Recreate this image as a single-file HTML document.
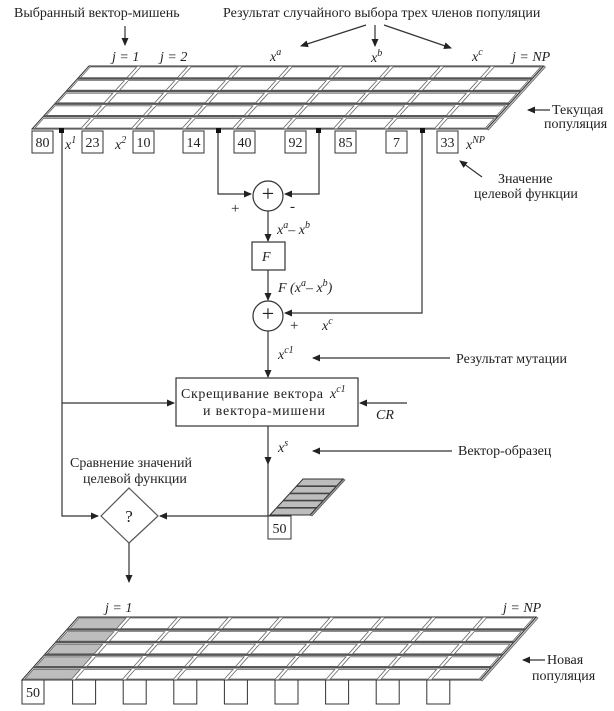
<!DOCTYPE html>
<html><head><meta charset="utf-8"><style>
html,body{margin:0;padding:0;background:#fff;}
svg{display:block;}
text{font-family:"Liberation Serif","DejaVu Serif",serif;fill:#222;}
.i{font-style:italic;}
</style></head><body>
<svg id="s" width="614" height="711" viewBox="0 0 614 711" xmlns="http://www.w3.org/2000/svg">
<defs>
<marker id="a" markerWidth="8" markerHeight="8" refX="7" refY="4" orient="auto" markerUnits="userSpaceOnUse">
<path d="M0,0.5 L8,4 L0,7.5 Z" fill="#222"/></marker>
</defs>
<g id="grids"></g>
<g stroke="#333" stroke-width="1.2" fill="none">
<line x1="125" y1="26" x2="125" y2="45" marker-end="url(#a)"/>
<line x1="366" y1="25" x2="301" y2="46" marker-end="url(#a)"/>
<line x1="375" y1="25" x2="375" y2="46" marker-end="url(#a)"/>
<line x1="384" y1="25" x2="451" y2="48" marker-end="url(#a)"/>
<line x1="550" y1="110" x2="528" y2="110" marker-end="url(#a)"/>
<line x1="482" y1="177" x2="460" y2="161" marker-end="url(#a)"/>
<polyline points="62,132 62,516 98,516" marker-end="url(#a)"/>
<line x1="62" y1="403" x2="174" y2="403" marker-end="url(#a)"/>
<polyline points="218,132 218,194 251,194" marker-end="url(#a)"/>
<polyline points="319,132 319,194 285,194" marker-end="url(#a)"/>
<polyline points="422,132 422,313 285,313" marker-end="url(#a)"/>
<circle cx="268" cy="196" r="15" fill="#fff"/>
<circle cx="268" cy="316" r="15" fill="#fff"/>
<line x1="268" y1="211" x2="268" y2="241" marker-end="url(#a)"/>
<rect x="252" y="242" width="33" height="28" fill="#fff"/>
<line x1="268" y1="270" x2="268" y2="300" marker-end="url(#a)"/>
<line x1="268" y1="331" x2="268" y2="377" marker-end="url(#a)"/>
<rect x="176" y="378" width="182" height="48" fill="#fff"/>
<line x1="407" y1="403" x2="360" y2="403" marker-end="url(#a)"/>
<line x1="268" y1="426" x2="268" y2="464" marker-end="url(#a)"/>
<line x1="268" y1="464" x2="268" y2="516"/>
<line x1="450" y1="358" x2="313" y2="358" marker-end="url(#a)"/>
<line x1="452" y1="451" x2="313" y2="451" marker-end="url(#a)"/>
<line x1="270" y1="516" x2="160" y2="516" marker-end="url(#a)"/>
<polygon points="129,488 158,516 129,543 101,516" stroke="#555" fill="#fff"/>
<line x1="129" y1="543" x2="129" y2="582" marker-end="url(#a)"/>
<line x1="545" y1="660" x2="523" y2="660" marker-end="url(#a)"/>
</g>
<g fill="#111">
<rect x="59" y="128" width="5" height="5"/><rect x="216" y="128" width="5" height="5"/>
<rect x="316" y="128" width="5" height="5"/><rect x="420" y="128" width="5" height="5"/>
</g>
<g font-size="14">
<text x="14" y="17">Выбранный вектор-мишень</text>
<text x="223" y="17">Результат случайного выбора трех членов популяции</text>
<text x="552" y="114">Текущая</text>
<text x="544" y="128">популяция</text>
<text x="498" y="183">Значение</text>
<text x="474" y="198">целевой функции</text>
<text x="456" y="363">Результат мутации</text>
<text x="458" y="455">Вектор-образец</text>
<text x="70" y="467">Сравнение значений</text>
<text x="83" y="483">целевой функции</text>
<text x="547" y="664">Новая</text>
<text x="532" y="680">популяция</text>
<text x="181" y="398" textLength="142">Скрещивание вектора</text>
<text x="203" y="415" textLength="122">и вектора-мишени</text>
</g>
<g font-size="14" class="i">
<text x="112" y="61" class="i">j = 1</text>
<text x="160" y="61" class="i">j = 2</text>
<text x="270" y="61" class="i">x<tspan dy="-6" font-size="10">a</tspan></text>
<text x="371" y="62" class="i">x<tspan dy="-6" font-size="10">b</tspan></text>
<text x="472" y="61" class="i">x<tspan dy="-6" font-size="10">c</tspan></text>
<text x="512" y="61" class="i">j = NP</text>
<text x="65" y="149" class="i">x<tspan dy="-6" font-size="10">1</tspan></text>
<text x="115" y="149" class="i">x<tspan dy="-6" font-size="10">2</tspan></text>
<text x="466" y="149" class="i">x<tspan dy="-6" font-size="10">NP</tspan></text>
<text x="277" y="234" class="i">x<tspan dy="-6" font-size="10">a</tspan><tspan dy="6">– x</tspan><tspan dy="-6" font-size="10">b</tspan></text>
<text x="262" y="261" class="i">F</text>
<text x="278" y="292" class="i">F (x<tspan dy="-6" font-size="10">a</tspan><tspan dy="6">– x</tspan><tspan dy="-6" font-size="10">b</tspan><tspan dy="6">)</tspan></text>
<text x="322" y="330" class="i">x<tspan dy="-6" font-size="10">c</tspan></text>
<text x="278" y="359" class="i">x<tspan dy="-6" font-size="10">c1</tspan></text>
<text x="330" y="398" class="i">x<tspan dy="-6" font-size="10">c1</tspan></text>
<text x="376" y="419" class="i">CR</text>
<text x="278" y="452" class="i">x<tspan dy="-6" font-size="10">s</tspan></text>
<text x="105" y="612" class="i">j = 1</text>
<text x="503" y="612" class="i">j = NP</text>
</g>
<g font-size="15">
<text x="268" y="201" text-anchor="middle" font-size="22" font-family="Liberation Sans">+</text>
<text x="268" y="321" text-anchor="middle" font-size="22" font-family="Liberation Sans">+</text>
<text x="231" y="213">+</text><text x="290" y="211">-</text>
<text x="290" y="330">+</text>
<text x="129" y="522" text-anchor="middle" font-size="17">?</text>
</g>
<g id="boxes" font-size="14"></g>
</svg>
<script>
var NS="http://www.w3.org/2000/svg";
function el(p,t,a){var e=document.createElementNS(NS,t);for(var k in a)e.setAttribute(k,a[k]);p.appendChild(e);return e;}
var G=document.getElementById("grids"),B=document.getElementById("boxes");
function slab(bl,bot,top,sh,cw,n,rows,grayCol){
  var h=bot-top,W=cw*n;
  el(G,"polygon",{points:[bl+W,bot, bl+W+sh,top, bl+W+sh+2,top+1, bl+W+2,bot+1].join(" "),fill:"#bbb",stroke:"#555","stroke-width":"0.6"});
  el(G,"polygon",{points:[bl,bot, bl+sh,top, bl+W+sh,top, bl+W,bot].join(" "),fill:"#fff",stroke:"#333","stroke-width":"1"});
  var rh=h/rows;
  for(var c=0;c<n;c++){
    for(var r=0;r<rows;r++){
      var y1=top+r*rh+ (r>0?2:1), y2=top+(r+1)*rh-1;
      var x0=bl+c*cw+2, x1=bl+(c+1)*cw-2;
      function X(x,y){return x+sh*(bot-y)/h;}
      el(G,"polygon",{points:[X(x0,y2),y2, X(x0,y1),y1, X(x1,y1),y1, X(x1,y2),y2].join(" "),
        fill:(c===grayCol?"#bdbdbd":"#fff"),stroke:"#666","stroke-width":"0.8"});
    }
  }
  for(var r=1;r<rows;r++){
    var y=top+r*rh;
    el(G,"line",{x1:bl+sh*(bot-y)/h,y1:y,x2:bl+W+sh*(bot-y)/h,y2:y,stroke:"#555","stroke-width":"2.2"});
  }
}
slab(32,129,66,57,50.5,9,5,-1);
slab(22,680,617,56,50.9,9,5,0);
(function(){
  var bl=270,bot=515,top=479,sh=33,W=40,h=bot-top;
  el(G,"polygon",{points:[bl+W,bot,bl+W+sh,top,bl+W+sh+2,top+1,bl+W+2,bot+1].join(" "),fill:"#999",stroke:"#444","stroke-width":"0.6"});
  el(G,"polygon",{points:[bl,bot,bl+sh,top,bl+W+sh,top,bl+W,bot].join(" "),fill:"#bdbdbd",stroke:"#333","stroke-width":"1"});
  for(var r=1;r<5;r++){var y=top+r*h/5;el(G,"line",{x1:bl+sh*(bot-y)/h,y1:y,x2:bl+W+sh*(bot-y)/h,y2:y,stroke:"#444","stroke-width":"1.6"});}
})();
var tv=[["80",32],["23",82],["10",133],["14",183],["40",234],["92",285],["85",335],["7",386],["33",437]];
tv.forEach(function(v){el(B,"rect",{x:v[1],y:131,width:21,height:22,fill:"#fff",stroke:"#333"});
 var t=el(B,"text",{x:v[1]+10.5,y:147,"text-anchor":"middle"});t.textContent=v[0];});
el(B,"rect",{x:22,y:680,width:22,height:24,fill:"#fff",stroke:"#333"});
var t=el(B,"text",{x:33,y:697,"text-anchor":"middle"});t.textContent="50";
for(var i=1;i<9;i++){el(B,"rect",{x:22+i*50.6,y:680,width:23,height:24,fill:"#fff",stroke:"#333"});}
el(B,"rect",{x:268,y:516,width:23,height:23,fill:"#fff",stroke:"#333"});
t=el(B,"text",{x:279.5,y:533,"text-anchor":"middle"});t.textContent="50";
</script>
</body></html>
